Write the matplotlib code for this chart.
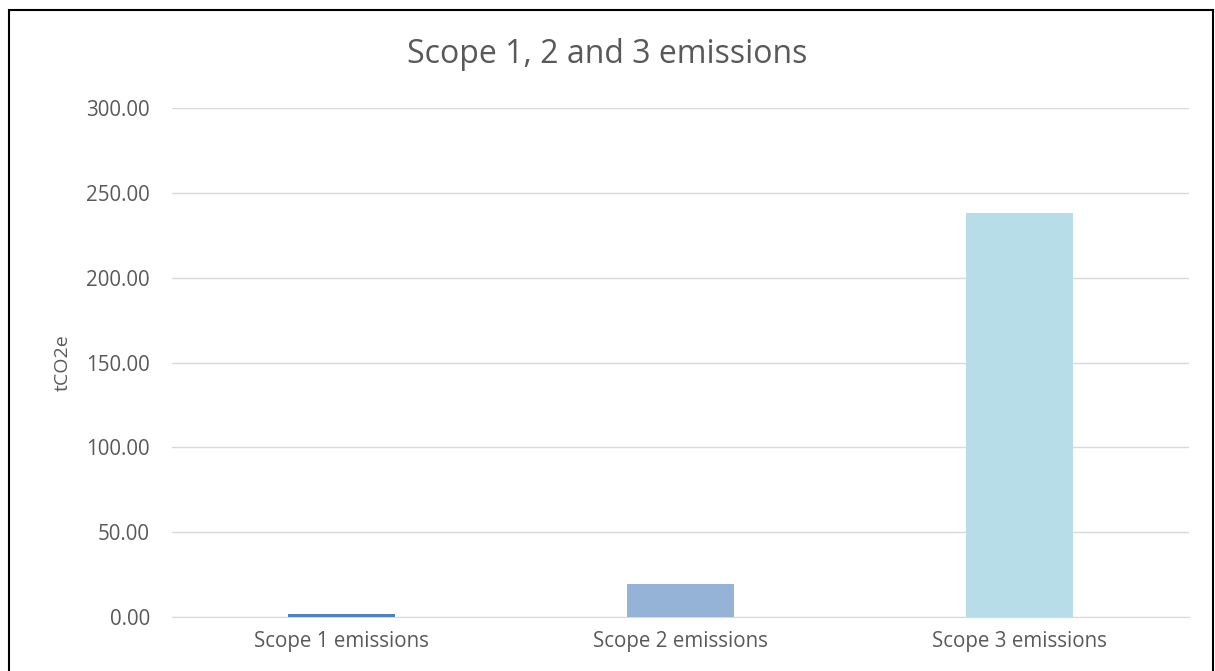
import matplotlib.pyplot as plt
from matplotlib.patches import Rectangle
import numpy as np

plt.rcParams['font.family'] = ['Open Sans', 'DejaVu Sans']

categories = ['Scope 1 emissions', 'Scope 2 emissions', 'Scope 3 emissions']
values = [2.0, 19.6, 238.3]
colors = ['#4F81BD', '#95B3D7', '#B7DDE8']
yticks = [0, 50, 100, 150, 200, 250, 300]

fig = plt.figure(figsize=(12.15, 6.71), dpi=100)
ax = fig.add_axes([0.1416, 0.0805, 0.837, 0.7585])

x = np.arange(len(categories))
ax.bar(x, values, width=0.316, color=colors, zorder=3)

ax.set_xlim(-0.5, len(categories) - 0.5)
ax.set_ylim(0, 300)
ax.set_yticks(yticks)
ax.set_yticklabels([f'{v:.2f}' for v in yticks])
ax.set_xticks(x)
ax.set_xticklabels(categories)
ax.tick_params(length=0, labelsize=14.8, labelcolor='#595959')
ax.tick_params(axis='y', pad=16)
ax.tick_params(axis='x', pad=10)
ax.grid(axis='y', color='#D9D9D9', linewidth=1, zorder=0)
for s in ['top', 'right', 'left']:
    ax.spines[s].set_visible(False)
ax.spines['bottom'].set_color('#D9D9D9')

ax.set_ylabel('tCO2e', fontsize=14, color='#595959', labelpad=10)
fig.text(0.5, 0.919, 'Scope 1, 2 and 3 emissions', ha='center', va='center',
         fontsize=23, color='#595959')

# chart border
fig.patches.append(Rectangle((9 / 1215, -0.05), 1204 / 1215, 1.05 - 10 / 671,
                             transform=fig.transFigure, fill=False,
                             edgecolor='black', linewidth=1.5))

fig.savefig('out.png', dpi=100)
